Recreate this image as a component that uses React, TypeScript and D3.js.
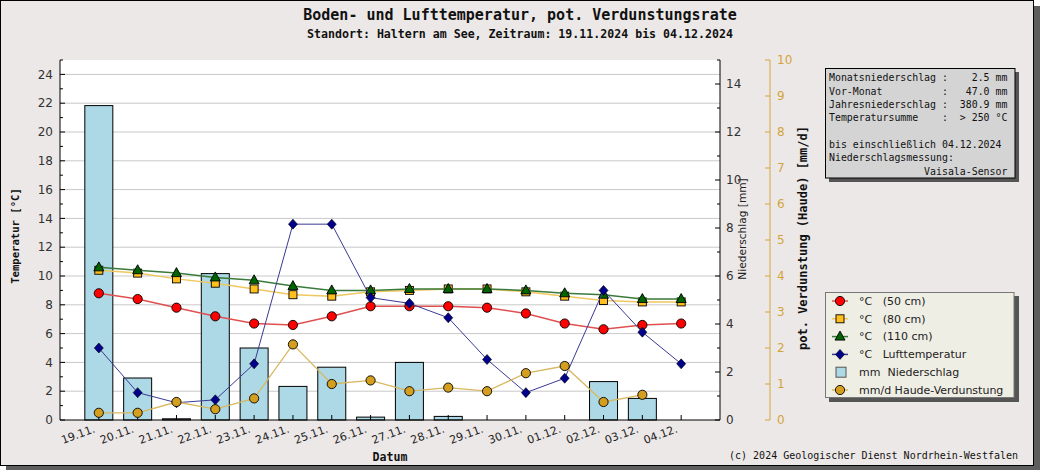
import React from "react";
import * as d3 from "d3";

const dates = ["19.11.", "20.11.", "21.11.", "22.11.", "23.11.", "24.11.", "25.11.", "26.11.", "27.11.", "28.11.", "29.11.", "30.11.", "01.12.", "02.12.", "03.12.", "04.12."];
const precip = [13.1, 1.75, 0.05, 6.1, 3.0, 1.4, 2.2, 0.12, 2.4, 0.15, 0, 0, 0, 1.6, 0.9, 0];
const t50 = [8.8, 8.4, 7.8, 7.2, 6.7, 6.6, 7.2, 7.9, 7.9, 7.9, 7.8, 7.4, 6.7, 6.3, 6.6, 6.7];
const t80 = [10.4, 10.2, 9.8, 9.5, 9.1, 8.7, 8.6, 8.9, 9.0, 9.1, 9.1, 8.9, 8.6, 8.3, 8.2, 8.2];
const t110 = [10.6, 10.4, 10.2, 9.9, 9.7, 9.3, 9.0, 9.0, 9.1, 9.1, 9.1, 9.0, 8.8, 8.7, 8.4, 8.4];
const tAir = [5.0, 1.9, 1.2, 1.4, 3.9, 13.6, 13.6, 8.5, 8.1, 7.1, 4.2, 1.9, 2.9, 9.0, 6.1, 3.9];
const evap: (number | null)[] = [0.2, 0.2, 0.5, 0.3, 0.6, 2.1, 1.0, 1.1, 0.8, 0.9, 0.8, 1.3, 1.5, 0.5, 0.7, null];

const tempTicks = d3.range(0, 25, 2);
const precipTicks = d3.range(0, 15, 2);
const evapTicks = d3.range(0, 11, 1);

const infoLines = [
  "Monatsniederschlag :    2.5 mm",
  "Vor-Monat          :   47.0 mm",
  "Jahresniederschlag :  380.9 mm",
  "Temperatursumme    :  > 250 °C",
  "",
  "bis einschließlich 04.12.2024",
  "Niederschlagsmessung:",
  "                Vaisala-Sensor",
];

const legendItems = [
  { label: "°C   (50 cm)", kind: "circle", fill: "#ff0000", line: "#e05050" },
  { label: "°C   (80 cm)", kind: "square", fill: "#ffbf1f", line: "#f0c860" },
  { label: "°C   (110 cm)", kind: "triangle", fill: "#006400", line: "#3a7a3a" },
  { label: "°C   Lufttemperatur", kind: "diamond", fill: "#00008b", line: "#3a3a95" },
  { label: "mm  Niederschlag", kind: "bar", fill: "#add8e6", line: "none" },
  { label: "mm/d Haude-Verdunstung", kind: "gold", fill: "#d49e1e", line: "#d8b860" },
];

const MONO = "'DejaVu Sans Mono', monospace";
const SANS = "'DejaVu Sans', sans-serif";

const L = 60, R = 720, T = 60, B = 420;

function Marker({ kind, x, y, fill }: { kind: string; x: number; y: number; fill: string }) {
  if (kind === "circle" || kind === "gold")
    return <circle cx={x} cy={y} r={4.6} fill={fill} stroke="#000" strokeWidth={0.9} />;
  if (kind === "square")
    return <rect x={x - 4} y={y - 4} width={8} height={8} fill={fill} stroke="#000" strokeWidth={0.9} />;
  if (kind === "triangle")
    return <path d={`M${x},${y - 5.5}L${x + 5},${y + 3.5}L${x - 5},${y + 3.5}Z`} fill={fill} stroke="#000" strokeWidth={0.9} />;
  if (kind === "diamond")
    return <path d={`M${x},${y - 5}L${x + 4.5},${y}L${x},${y + 5}L${x - 4.5},${y}Z`} fill={fill} stroke="#000" strokeWidth={0.6} />;
  return null;
}

export default function App() {
  const x = d3.scalePoint<string>().domain(dates).range([L, R]).padding(1);
  const yT = d3.scaleLinear().domain([0, 25]).range([B, T]);
  const yP = d3.scaleLinear().domain([0, 15]).range([B, T]);
  const yE = d3.scaleLinear().domain([0, 10]).range([B, T]);
  const barW = 28;

  const lineT = d3.line<number>().x((_, i) => x(dates[i])!).y((d) => yT(d));
  const lineE = d3
    .line<number | null>()
    .defined((d) => d != null)
    .x((_, i) => x(dates[i])!)
    .y((d) => yE(d as number));

  const series = [
    { data: t50, kind: "circle", fill: "#ff0000", line: "#e05050", w: 1.5 },
    { data: t80, kind: "square", fill: "#ffbf1f", line: "#f0c860", w: 1.5 },
    { data: t110, kind: "triangle", fill: "#006400", line: "#3a7a3a", w: 1.5 },
    { data: tAir, kind: "diamond", fill: "#00008b", line: "#3a3a95", w: 1 },
  ];

  return (
    <svg width={1040} height={470} style={{ position: "absolute", left: 0, top: 0, display: "block" }}>
      <rect x={6} y={6} width={1034} height={464} fill="#5e5e5e" />
      <rect x={0.5} y={0.5} width={1033} height={465} fill="#ece8e7" stroke="#000" strokeWidth={1} />

      <text x={520} y={19.5} textAnchor="middle" fontFamily={MONO} fontWeight="bold" fontSize={15} fill="#111">
        Boden- und Lufttemperatur, pot. Verdunstungsrate
      </text>
      <text x={520} y={38} textAnchor="middle" fontFamily={MONO} fontWeight="bold" fontSize={11.6} fill="#111">
        Standort: Haltern am See, Zeitraum: 19.11.2024 bis 04.12.2024
      </text>

      <rect x={L} y={T} width={R - L} height={B - T} fill="#fff" />
      {tempTicks.filter((t) => t > 0).map((t) => (
        <line key={"g" + t} x1={L} x2={R} y1={yT(t)} y2={yT(t)} stroke="#c9c9c9" strokeWidth={1} />
      ))}

      {precip.map((p, i) => (
        <rect key={"b" + i} x={x(dates[i])! - barW / 2} y={yP(p)} width={barW} height={B - yP(p)} fill="#add8e6" stroke="#000" strokeWidth={1} />
      ))}

      {dates.map((d) => (
        <line key={"xt" + d} x1={x(d)!} x2={x(d)!} y1={B} y2={B - 5} stroke="#000" />
      ))}

      {series.map((s, si) => (
        <g key={"s" + si}>
          <path d={lineT(s.data)!} fill="none" stroke={s.line} strokeWidth={s.w} />
          {s.data.map((v, i) => (
            <Marker key={i} kind={s.kind} x={x(dates[i])!} y={yT(v)} fill={s.fill} />
          ))}
        </g>
      ))}
      <g>
        <path d={lineE(evap)!} fill="none" stroke="#d8b860" strokeWidth={1.3} />
        {evap.map((v, i) => (v == null ? null : <Marker key={i} kind="gold" x={x(dates[i])!} y={yE(v)} fill="#d49e1e" />))}
      </g>

      {/* axes */}
      <line x1={L} x2={L} y1={T} y2={B} stroke="#000" />
      <line x1={L} x2={R} y1={B} y2={B} stroke="#000" />
      <line x1={R} x2={R} y1={T} y2={B} stroke="#000" />
      {d3.range(0, 26, 1).map((t) => (
        <line key={"lt" + t} x1={L} x2={L + (t % 2 === 0 ? 5 : 3)} y1={yT(t)} y2={yT(t)} stroke="#000" />
      ))}
      {tempTicks.map((t) => (
        <text key={"ll" + t} x={53} y={yT(t)} dy="0.35em" textAnchor="end" fontFamily={SANS} fontSize={12} fill="#333">
          {t}
        </text>
      ))}
      {d3.range(0, 16, 1).map((t) => (
        <line key={"rt" + t} x1={R} x2={R - (t % 2 === 0 ? 5 : 3)} y1={yP(t)} y2={yP(t)} stroke="#000" />
      ))}
      {precipTicks.map((t) => (
        <text key={"rl" + t} x={726} y={yP(t)} dy="0.35em" textAnchor="start" fontFamily={SANS} fontSize={12} fill="#333">
          {t}
        </text>
      ))}
      <text transform="translate(742,229) rotate(-90)" dy="0.35em" textAnchor="middle" fontFamily={SANS} fontSize={10.6} fill="#222">
        Niederschlag [mm]
      </text>

      <line x1={770} x2={770} y1={T} y2={B} stroke="#d4a43c" />
      {evapTicks.map((t) => (
        <g key={"et" + t}>
          <line x1={770} x2={765} y1={yE(t)} y2={yE(t)} stroke="#d4a43c" />
          <text x={777} y={yE(t)} dy="0.35em" fontFamily={SANS} fontSize={12} fill="#d4a43c">
            {t}
          </text>
        </g>
      ))}
      <text transform="translate(803,238) rotate(-90)" dy="0.35em" textAnchor="middle" fontFamily={MONO} fontWeight="bold" fontSize={12} fill="#111">
        pot. Verdunstung (Haude) [mm/d]
      </text>
      <text transform="translate(15,236) rotate(-90)" dy="0.35em" textAnchor="middle" fontFamily={MONO} fontWeight="bold" fontSize={10.6} fill="#111">
        Temperatur [°C]
      </text>

      {dates.map((d) => (
        <text key={"xl" + d} transform={`translate(${x(d)! - 3},432) rotate(-20)`} textAnchor="end" fontFamily={SANS} fontSize={11} fill="#222">
          {d}
        </text>
      ))}
      <text x={390} y={461} textAnchor="middle" fontFamily={MONO} fontWeight="bold" fontSize={11.6} fill="#111">
        Datum
      </text>
      <text x={1018} y={459} textAnchor="end" fontFamily={MONO} fontSize={10} fill="#111">
        (c) 2024 Geologischer Dienst Nordrhein-Westfalen
      </text>

      {/* info box */}
      <rect x={829} y={72} width={190} height={110} fill="#555" />
      <rect x={825.5} y={68.5} width={189.5} height={109.5} fill="#d4d4d4" stroke="#000" />
      {infoLines.map((s, i) => (
        <text key={"i" + i} x={829} y={78 + i * 13.3} dy="0.35em" fontFamily={MONO} fontSize={9.9} fill="#111" style={{ whiteSpace: "pre" }}>
          {s}
        </text>
      ))}

      {/* legend */}
      <rect x={829} y={296} width={190} height={106} fill="#555" />
      <rect x={825.5} y={292.5} width={188.5} height={105} fill="#efeee4" stroke="#777" />
      {legendItems.map((it, i) => {
        const cy = 301 + i * 17.8;
        return (
          <g key={"lg" + i}>
            {it.kind === "bar" ? (
              <rect x={836} y={cy - 5} width={10} height={10} fill={it.fill} stroke="#555" />
            ) : (
              <>
                <line x1={832} x2={848} y1={cy} y2={cy} stroke={it.line} strokeWidth={1.5} />
                <Marker kind={it.kind} x={840} y={cy} fill={it.fill} />
              </>
            )}
            <text x={859} y={cy} dy="0.35em" fontFamily={SANS} fontSize={11} fill="#222" style={{ whiteSpace: "pre" }}>
              {it.label}
            </text>
          </g>
        );
      })}
    </svg>
  );
}
